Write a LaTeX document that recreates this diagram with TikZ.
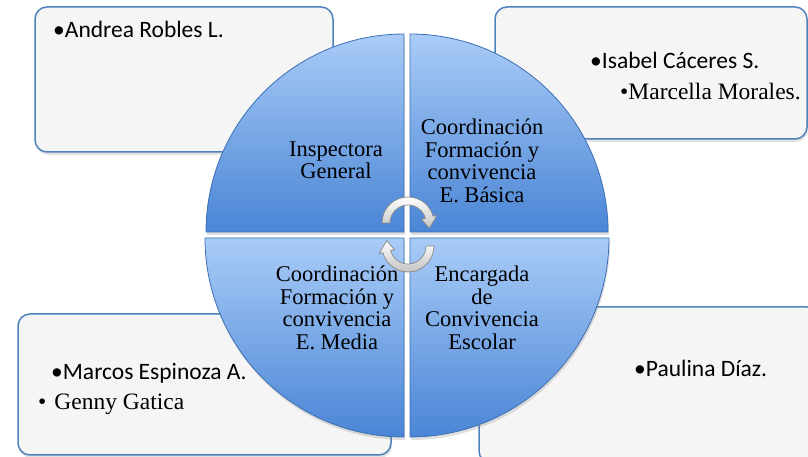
\documentclass[tikz,border=0pt]{standalone}
\usepackage{fontspec}
\setmainfont{Liberation Serif}
\newfontfamily\carl{Carlito}
\usetikzlibrary{shadows}
\definecolor{boxline}{HTML}{4F81BD}
\definecolor{boxfill}{HTML}{F5F5F5}
\definecolor{qtop}{HTML}{A9CCF7}
\definecolor{qbot}{HTML}{4A85D6}
\definecolor{qline}{HTML}{3C6FB4}
\definecolor{arrfill}{HTML}{C4C4C4}
\definecolor{arrline}{HTML}{888888}
\tikzset{
  namebox/.style={fill=boxfill, draw=boxline, line width=1.5pt, rounded corners=12pt,
    drop shadow={opacity=0.22, shadow xshift=1pt, shadow yshift=-3pt}},
  quad/.style={top color=qtop, bottom color=qbot, draw=qline, line width=0.8pt,
    drop shadow={opacity=0.25, shadow xshift=1pt, shadow yshift=-3pt}},
  sanslabel/.style={font=\carl\fontsize{23.5}{28}\selectfont, inner sep=0pt, anchor=base west},
  seriflabel/.style={font=\fontsize{23.5}{28}\selectfont, inner sep=0pt, anchor=base west},
  quadlabel/.style={font=\fontsize{22.5}{22.5}\selectfont, align=center, inner sep=0pt},
  cyclearrow/.style={top color=white, bottom color=arrfill, draw=arrline, line width=0.7pt},
}
\begin{document}
\begin{tikzpicture}[x=1pt,y=1pt]
\useasboundingbox (0,0) rectangle (808,457);
\clip (0,0) rectangle (808,457);
% name boxes
\node[namebox, minimum width=298pt, minimum height=145pt] (boxTL) at (184,377.5) {};
\node[namebox, minimum width=312pt, minimum height=132pt] (boxTR) at (651,384) {};
\node[namebox, minimum width=373pt, minimum height=141pt] (boxBL) at (204.5,72.5) {};
\node[namebox, minimum width=340pt, minimum height=156pt] (boxBR) at (649,72) {};
% quadrants
\path[quad] (404,225) -- (206,225) arc[start angle=180, end angle=90, radius=198] -- cycle;
\path[quad] (410,225) -- (410,423) arc[start angle=90, end angle=0, radius=198] -- cycle;
\path[quad] (404,219) -- (404,20) arc[start angle=270, end angle=180, radius=199] -- cycle;
\path[quad] (410,219) -- (609,219) arc[start angle=0, end angle=-90, radius=199] -- cycle;
% cycle arrows
\begin{scope}[shift={(408,234)}]
\path[cyclearrow] (180:26) arc[start angle=180, end angle=15, radius=26]
  -- (15:30) -- (-14:22) -- (15:14) -- (15:18)
  arc[start angle=15, end angle=180, radius=18] -- cycle;
\end{scope}
\begin{scope}[shift={(408,211)}, rotate=180]
\path[cyclearrow] (180:26) arc[start angle=180, end angle=15, radius=26]
  -- (15:30) -- (-14:22) -- (15:14) -- (15:18)
  arc[start angle=15, end angle=180, radius=18] -- cycle;
\end{scope}
% quadrant labels
\node[quadlabel] (qTL) at (336,297) {Inspectora\\General};
\node[quadlabel] (qTR) at (482,296) {Coordinación\\Formación y\\convivencia\\E. Básica};
\node[quadlabel] (qBL) at (337,149) {Coordinación\\Formación y\\convivencia\\E. Media};
\node[quadlabel] (qBR) at (482,149) {Encargada\\de\\Convivencia\\Escolar};
% names
\node[sanslabel] (nA) at (53,419) {•Andrea Robles L.};
\node[sanslabel] (nI) at (590,388) {•Isabel Cáceres S.};
\node[seriflabel] (nM) at (620,357) {•Marcella Morales.};
\node[sanslabel] (nE) at (51,77) {•Marcos Espinoza A.};
\node[seriflabel] (nG) at (38,47) {•\hspace{8pt}Genny Gatica};
\node[sanslabel] (nP) at (634,80) {•Paulina Díaz.};
\end{tikzpicture}
\end{document}
